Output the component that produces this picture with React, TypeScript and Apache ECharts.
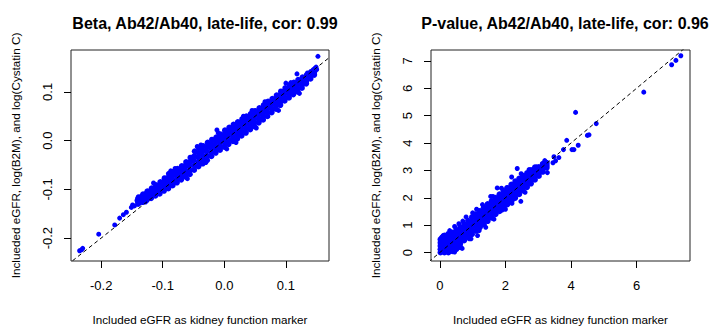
import React, { useEffect, useRef } from "react";
import * as echarts from "echarts";

const FONT = "'Liberation Sans', Arial, sans-serif";

const betaTitle = "Beta, Ab42/Ab40, late-life, cor: 0.99";
const pvalTitle = "P-value, Ab42/Ab40, late-life, cor: 0.96";
const xAxisTitle = "Included eGFR as kidney function marker";
const yAxisTitle = "Inclueded eGFR, log(B2M), and log(Cystatin C)";

const betaXTicks = [-0.2, -0.1, 0, 0.1];
const betaYTicks = [-0.2, -0.1, 0, 0.1];
const pvalXTicks = [0, 2, 4, 6];
const pvalYTicks = [0, 1, 2, 3, 4, 5, 6, 7];

const betaXRange = [-0.249, 0.17];
const betaYRange = [-0.247, 0.186];
const pvalXRange = [-0.27, 7.63];
const pvalYRange = [-0.31, 7.4];

// identity reference line (y = x), clipped to the plot region
const betaIdentity = [[-0.3, -0.3], [0.3, 0.3]];
const pvalIdentity = [[-1, -1], [8, 8]];

// Beta: main band
const betaPoints: number[][] = [
  [-0.140, -0.130], [-0.140, -0.126], [-0.141, -0.123], [-0.140, -0.119], [-0.139, -0.116],
  [-0.133, -0.126], [-0.133, -0.122], [-0.134, -0.117], [-0.133, -0.114], [-0.132, -0.110],
  [-0.126, -0.122], [-0.126, -0.117], [-0.127, -0.113], [-0.126, -0.108], [-0.125, -0.104],
  [-0.119, -0.118], [-0.119, -0.112], [-0.120, -0.107], [-0.119, -0.103], [-0.118, -0.098],
  [-0.112, -0.113], [-0.112, -0.107], [-0.113, -0.102], [-0.112, -0.096], [-0.111, -0.091],
  [-0.105, -0.109], [-0.105, -0.103], [-0.106, -0.096], [-0.105, -0.091], [-0.104, -0.085],
  [-0.098, -0.103], [-0.098, -0.096], [-0.099, -0.091], [-0.098, -0.084], [-0.097, -0.077],
  [-0.091, -0.098], [-0.091, -0.091], [-0.092, -0.083], [-0.091, -0.076], [-0.090, -0.068],
  [-0.084, -0.092], [-0.084, -0.085], [-0.085, -0.078], [-0.084, -0.071], [-0.083, -0.064],
  [-0.077, -0.086], [-0.077, -0.079], [-0.078, -0.071], [-0.077, -0.065], [-0.076, -0.058],
  [-0.070, -0.080], [-0.070, -0.073], [-0.071, -0.066], [-0.070, -0.059], [-0.069, -0.052],
  [-0.063, -0.074], [-0.063, -0.066], [-0.064, -0.059], [-0.063, -0.051], [-0.062, -0.044],
  [-0.056, -0.069], [-0.056, -0.061], [-0.057, -0.052], [-0.056, -0.044], [-0.055, -0.035],
  [-0.049, -0.060], [-0.049, -0.051], [-0.050, -0.041], [-0.049, -0.032], [-0.048, -0.022],
  [-0.042, -0.053], [-0.042, -0.044], [-0.043, -0.034], [-0.042, -0.025], [-0.041, -0.015],
  [-0.035, -0.047], [-0.035, -0.038], [-0.036, -0.029], [-0.035, -0.020], [-0.034, -0.011],
  [-0.028, -0.040], [-0.028, -0.031], [-0.029, -0.022], [-0.028, -0.013], [-0.027, -0.004],
  [-0.021, -0.032], [-0.021, -0.024], [-0.022, -0.015], [-0.021, -0.007], [-0.020, 0.002],
  [-0.014, -0.025], [-0.014, -0.017], [-0.015, -0.009], [-0.014, -0.001], [-0.013, 0.007],
  [-0.007, -0.019], [-0.007, -0.011], [-0.008, -0.003], [-0.007, 0.005], [-0.006, 0.013],
  [0.000, -0.013], [0.000, -0.004], [-0.001, 0.004], [0.000, 0.012], [0.001, 0.021],
  [0.007, -0.007], [0.007, 0.002], [0.006, 0.010], [0.007, 0.018], [0.008, 0.027],
  [0.014, -0.001], [0.014, 0.008], [0.013, 0.016], [0.014, 0.024], [0.015, 0.033],
  [0.021, 0.004], [0.021, 0.013], [0.020, 0.021], [0.021, 0.030], [0.022, 0.038],
  [0.028, 0.010], [0.028, 0.019], [0.027, 0.027], [0.028, 0.036], [0.029, 0.044],
  [0.035, 0.016], [0.035, 0.025], [0.034, 0.033], [0.035, 0.041], [0.036, 0.050],
  [0.042, 0.023], [0.042, 0.031], [0.041, 0.039], [0.042, 0.047], [0.043, 0.055],
  [0.049, 0.029], [0.049, 0.037], [0.048, 0.045], [0.049, 0.053], [0.050, 0.061],
  [0.056, 0.037], [0.056, 0.044], [0.055, 0.052], [0.056, 0.059], [0.057, 0.067],
  [0.063, 0.043], [0.063, 0.050], [0.062, 0.058], [0.063, 0.066], [0.064, 0.073],
  [0.070, 0.050], [0.070, 0.057], [0.069, 0.065], [0.070, 0.072], [0.071, 0.080],
  [0.077, 0.058], [0.077, 0.065], [0.076, 0.072], [0.077, 0.079], [0.078, 0.086],
  [0.084, 0.065], [0.084, 0.072], [0.083, 0.079], [0.084, 0.086], [0.085, 0.093],
  [0.091, 0.073], [0.091, 0.080], [0.090, 0.087], [0.091, 0.094], [0.092, 0.101],
  [0.098, 0.082], [0.098, 0.088], [0.097, 0.095], [0.098, 0.101], [0.099, 0.108],
  [0.105, 0.088], [0.105, 0.094], [0.104, 0.101], [0.105, 0.107], [0.106, 0.114],
  [0.112, 0.095], [0.112, 0.101], [0.111, 0.107], [0.112, 0.113], [0.113, 0.119],
  [0.119, 0.101], [0.119, 0.107], [0.118, 0.113], [0.119, 0.119], [0.120, 0.125],
  [0.126, 0.108], [0.126, 0.114], [0.125, 0.119], [0.126, 0.125], [0.127, 0.130],
  [0.133, 0.117], [0.133, 0.122], [0.132, 0.126], [0.133, 0.131], [0.134, 0.135],
  [0.140, 0.127], [0.140, 0.131], [0.139, 0.134], [0.140, 0.138], [0.141, 0.141],
  [0.146, 0.135], [0.146, 0.140], [0.145, 0.145],
];

// Beta: points on the band's rough edges
const betaEdge: number[][] = [
  [-0.087, -0.062], [-0.080, -0.057], [-0.044, -0.012], [-0.038, -0.009], [-0.030, -0.045],
  [-0.010, 0.016], [0.004, -0.017], [0.019, -0.004], [0.031, 0.050], [0.052, 0.026],
  [0.066, 0.080], [0.088, 0.062], [0.108, 0.119], [0.122, 0.097], [-0.115, -0.087],
  [-0.128, -0.126], [0.045, 0.062], [-0.060, -0.078],
];

// Beta: isolated points
const betaOutliers: number[][] = [
  [0.152, 0.173], [0.149, 0.151], [0.150, 0.146], [0.147, 0.148], [0.135, 0.139],
  [0.118, 0.137], [0.118, 0.100], [0.100, 0.118], [-0.012, 0.022], [-0.149, -0.132],
  [-0.151, -0.137], [-0.146, -0.134], [-0.170, -0.159], [-0.159, -0.147], [-0.164, -0.152],
  [-0.178, -0.173], [-0.204, -0.192], [-0.235, -0.226], [-0.230, -0.221], [-0.232, -0.224],
];

// P-value: main band
const pvalPoints: number[][] = [
  [0.02, 0.00], [0.02, 0.12], [0.02, 0.24], [0.02, 0.36], [0.02, 0.48],
  [0.14, 0.00], [0.14, 0.13], [0.14, 0.26], [0.14, 0.39], [0.14, 0.52], [0.14, 0.62],
  [0.26, 0.00], [0.26, 0.14], [0.26, 0.28], [0.26, 0.42], [0.26, 0.56], [0.26, 0.68],
  [0.38, 0.05], [0.38, 0.19], [0.38, 0.33], [0.38, 0.47], [0.38, 0.61], [0.38, 0.73],
  [0.50, 0.12], [0.50, 0.26], [0.50, 0.40], [0.50, 0.54], [0.50, 0.68], [0.50, 0.82],
  [0.62, 0.32], [0.62, 0.47], [0.62, 0.62], [0.62, 0.77], [0.62, 0.92], [0.62, 0.20],
  [0.74, 0.44], [0.74, 0.59], [0.74, 0.74], [0.74, 0.89], [0.74, 1.04],
  [0.86, 0.55], [0.86, 0.71], [0.86, 0.86], [0.86, 1.01], [0.86, 1.16],
  [0.98, 0.67], [0.98, 0.83], [0.98, 0.98], [0.98, 1.13], [0.98, 1.29],
  [1.10, 0.79], [1.10, 0.95], [1.10, 1.10], [1.10, 1.25], [1.10, 1.40],
  [1.22, 0.92], [1.22, 1.07], [1.22, 1.22], [1.22, 1.37], [1.22, 1.52],
  [1.34, 1.03], [1.34, 1.19], [1.34, 1.34], [1.34, 1.49], [1.34, 1.65],
  [1.46, 1.15], [1.46, 1.31], [1.46, 1.46], [1.46, 1.61], [1.46, 1.77],
  [1.58, 1.27], [1.58, 1.43], [1.58, 1.58], [1.58, 1.73], [1.58, 1.88],
  [1.70, 1.40], [1.70, 1.55], [1.70, 1.70], [1.70, 1.85], [1.70, 2.00],
  [1.82, 1.51], [1.82, 1.67], [1.82, 1.82], [1.82, 1.97], [1.82, 2.13],
  [1.94, 1.63], [1.94, 1.79], [1.94, 1.94], [1.94, 2.09], [1.94, 2.25],
  [2.06, 1.76], [2.06, 1.91], [2.06, 2.06], [2.06, 2.21], [2.06, 2.36],
  [2.18, 1.88], [2.18, 2.03], [2.18, 2.18], [2.18, 2.33], [2.18, 2.48],
  [2.30, 2.00], [2.30, 2.15], [2.30, 2.30], [2.30, 2.45], [2.30, 2.60],
  [2.42, 2.13], [2.42, 2.28], [2.42, 2.42], [2.42, 2.56], [2.42, 2.70],
  [2.54, 2.26], [2.54, 2.40], [2.54, 2.54], [2.54, 2.67], [2.54, 2.80],
  [2.66, 2.39], [2.66, 2.53], [2.66, 2.66], [2.66, 2.78], [2.66, 2.90],
  [2.78, 2.52], [2.78, 2.65], [2.78, 2.78], [2.78, 2.90], [2.78, 3.01],
  [2.90, 2.66], [2.90, 2.78], [2.90, 2.90], [2.90, 3.01], [2.90, 3.11],
  [3.02, 2.80], [3.02, 2.91], [3.02, 3.02], [3.02, 3.12],
  [3.14, 2.95], [3.14, 3.05], [3.14, 3.15], [3.14, 3.24],
  [3.26, 3.10], [3.26, 3.19], [3.26, 3.28],
];

// P-value: points on the band's rough edges
const pvalEdge: number[][] = [
  [0.08, 0.58], [0.30, 0.80], [0.45, 0.95], [0.58, 1.05], [0.80, 1.30], [0.95, 0.50],
  [1.15, 0.62], [1.40, 0.92], [1.65, 1.22], [2.00, 1.58], [2.25, 1.95], [2.60, 2.20],
  [1.12, 1.58], [1.62, 2.05], [1.88, 2.35], [2.48, 2.88], [0.68, 0.15], [0.45, 0.02],
];

// P-value: isolated points
const pvalOutliers: number[][] = [
  [0.05, 0.55], [0.10, 0.62], [0.70, 1.15], [1.00, 1.45], [1.30, 1.75], [1.55, 2.05],
  [1.75, 2.36], [2.04, 2.36], [2.19, 2.76], [2.36, 3.07], [2.47, 1.87], [2.72, 3.03],
  [2.95, 3.13], [3.28, 2.92], [3.20, 3.36], [3.48, 3.50], [3.53, 3.35], [3.63, 3.47],
  [3.45, 3.28], [3.77, 3.76], [4.03, 3.76], [4.09, 3.76], [3.87, 4.10], [4.22, 3.92],
  [4.50, 4.28], [4.55, 4.30], [4.77, 4.71], [4.14, 5.12], [6.22, 5.86], [7.07, 6.86],
  [7.20, 7.02], [7.35, 7.19], [1.20, 0.80], [1.90, 1.55], [2.20, 1.80], [0.90, 0.50],
];

const textStyle = { fontFamily: FONT, color: "#000" };

function makeXAxis(gridIndex: number, range: number[], ticks: number[], fmt: (v: number) => string) {
  return {
    gridIndex,
    type: "value",
    min: range[0],
    max: range[1],
    axisLine: { show: false, onZero: false },
    axisTick: { show: true, length: 7, customValues: ticks, lineStyle: { color: "#000", width: 1 } },
    axisLabel: { customValues: ticks, formatter: fmt, margin: 18, fontSize: 13, ...textStyle },
    splitLine: { show: false },
    name: xAxisTitle,
    nameLocation: "middle",
    nameGap: 52,
    nameTextStyle: { fontSize: 11.7, ...textStyle },
  };
}

function makeYAxis(gridIndex: number, range: number[], ticks: number[], fmt: (v: number) => string) {
  return {
    gridIndex,
    type: "value",
    min: range[0],
    max: range[1],
    axisLine: { show: false, onZero: false },
    axisTick: { show: true, length: 7, customValues: ticks, lineStyle: { color: "#000", width: 1 } },
    axisLabel: { customValues: ticks, formatter: fmt, margin: 17, rotate: 90, fontSize: 13, ...textStyle },
    splitLine: { show: false },
    name: yAxisTitle,
    nameLocation: "middle",
    nameGap: 50,
    nameTextStyle: { fontSize: 11.7, ...textStyle },
  };
}

const fmt1 = (v: number) => v.toFixed(1);
const fmt0 = (v: number) => String(Math.round(v));

export default function App() {
  const ref = useRef<HTMLDivElement>(null);
  useEffect(() => {
    document.body.style.margin = "0";
    const chart = echarts.init(ref.current!, null, { renderer: "svg" });
    const scatterStyle = { color: "#0000FF", opacity: 1 };
    const dashed = { color: "#000", width: 1, type: [4, 3] };
    chart.setOption({
      animation: false,
      backgroundColor: "#fff",
      title: [
        { text: betaTitle, left: 200, top: 10, textAlign: "center", textStyle: { fontSize: 16, fontWeight: "bold", ...textStyle } },
        { text: pvalTitle, left: 560, top: 10, textAlign: "center", textStyle: { fontSize: 16, fontWeight: "bold", ...textStyle } },
      ],
      grid: [
        { left: 71, top: 50, width: 258, height: 212, show: true, borderColor: "#222", borderWidth: 1, backgroundColor: "transparent" },
        { left: 431, top: 50, width: 259, height: 212, show: true, borderColor: "#222", borderWidth: 1, backgroundColor: "transparent" },
      ],
      xAxis: [makeXAxis(0, betaXRange, betaXTicks, fmt1), makeXAxis(1, pvalXRange, pvalXTicks, fmt0)],
      yAxis: [makeYAxis(0, betaYRange, betaYTicks, fmt1), makeYAxis(1, pvalYRange, pvalYTicks, fmt0)],
      series: [
        { type: "scatter", xAxisIndex: 0, yAxisIndex: 0, data: betaPoints, symbolSize: 6, itemStyle: scatterStyle },
        { type: "scatter", xAxisIndex: 0, yAxisIndex: 0, data: betaEdge, symbolSize: 5, itemStyle: scatterStyle },
        { type: "scatter", xAxisIndex: 0, yAxisIndex: 0, data: betaOutliers, symbolSize: 5, itemStyle: scatterStyle },
        { type: "line", xAxisIndex: 0, yAxisIndex: 0, data: betaIdentity, symbol: "none", clip: true, lineStyle: dashed },
        { type: "scatter", xAxisIndex: 1, yAxisIndex: 1, data: pvalPoints, symbolSize: 6, itemStyle: scatterStyle },
        { type: "scatter", xAxisIndex: 1, yAxisIndex: 1, data: pvalEdge, symbolSize: 5, itemStyle: scatterStyle },
        { type: "scatter", xAxisIndex: 1, yAxisIndex: 1, data: pvalOutliers, symbolSize: 5, itemStyle: scatterStyle },
        { type: "line", xAxisIndex: 1, yAxisIndex: 1, data: pvalIdentity, symbol: "none", clip: true, lineStyle: dashed },
      ],
    });
    return () => chart.dispose();
  }, []);
  return <div ref={ref} style={{ position: "fixed", left: 0, top: 0, width: 710, height: 330 }} />;
}
